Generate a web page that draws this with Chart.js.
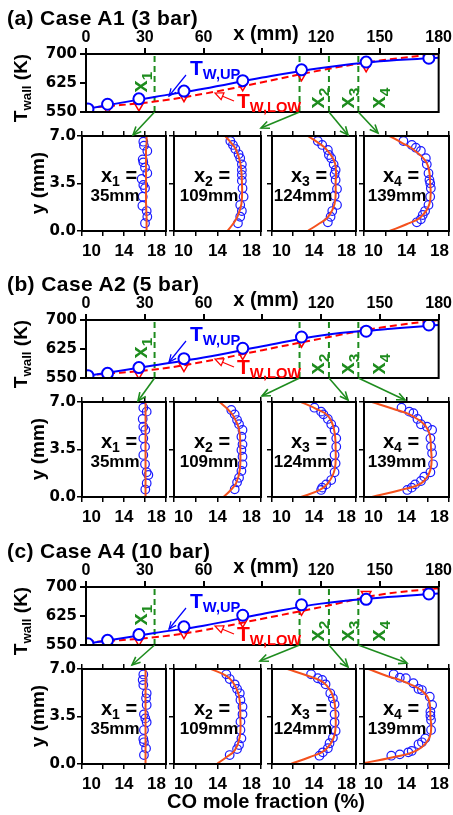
<!DOCTYPE html>
<html>
<head>
<meta charset="utf-8">
<script src="https://cdn.jsdelivr.net/npm/chart.js@4.4.0/dist/chart.umd.min.js"></script>
<style>
  body { margin: 0; width: 453px; height: 815px; background: #fff; position: relative; overflow: hidden;
         font-family: "Liberation Sans", Arial, sans-serif; font-weight: bold; color: #000; }
  canvas { position: absolute; }
  .lbl { position: absolute; white-space: nowrap; line-height: 1; z-index: 6; }
  .sb { font-size: .7em; position: relative; top: .3em; }
</style>
</head>
<body>
<svg id="arrows" width="453" height="815" style="position:absolute;left:0;top:0;z-index:5"></svg>
<script>
// ---- wall temperature (top plots) ----
const xTicks = [0, 30, 60, 90, 120, 150, 180];
const xTickLabels = ['0', '30', '60', '', '120', '150', '180'];
const tTicks = [550, 625, 700];
const xProbe = [35, 109, 124, 139];
const xMeas = [1, 11, 27, 50, 80, 110, 143, 175];
const xCurve = [0, 35, 60, 90, 120, 150, 180];

const upMeasA1 = [558, 570, 584, 604, 631, 659, 679, 689];
const lowMeasA1 = [557, 560, 567, 591, 619, 645, 668, 698];
const upSimA1 = [558, 589, 610, 639, 664, 681, 690];
const lowSimA1 = [560, 577, 597, 627, 658, 683, 700];

const upMeasA2 = [556, 562, 577, 600, 627, 656, 671, 687];
const lowMeasA2 = [553, 552, 562, 581, 612, 644, 673, 697];
const upSimA2 = [555, 583, 603, 632, 660, 675, 687];
const lowSimA2 = [557, 572, 592, 622, 652, 680, 700];

const upMeasA4 = [553, 562, 577, 597, 627, 654, 668, 682];
const lowMeasA4 = [553, 553, 562, 581, 610, 641, 681, 696];
const upSimA4 = [553, 581, 600, 630, 657, 672, 683];
const lowSimA4 = [556, 570, 588, 618, 648, 680, 697];

// ---- CO profiles (small plots) ----
const coTicks = [10, 12, 14, 16, 18];
const coLabels = [10, 14, 18];
const yTicks = [0, 3.5, 7];
const profY = [0, 0.5, 1, 2, 3.5, 5, 6, 6.5, 7];

const yA1_1 = [6.58, 6.29, 5.9, 5.28, 5.06, 4.67, 4.25, 3.83, 3.39, 3.15, 2.53, 1.86, 1.47, 1.05, 0.57];
const coA1_1 = [15.84, 15.9, 16.22, 15.78, 15.84, 16.0, 16.22, 15.68, 15.84, 16.0, 15.78, 15.75, 16.16, 16.22, 16.0];
const simA1_1 = [16.15, 16.15, 16.15, 16.1, 16.1, 16.1, 16.1, 16.15, 16.15];
const yA1_2 = [6.63, 6.34, 6.04, 5.65, 5.36, 4.91, 4.5, 4.13, 3.71, 3.15, 2.53, 1.92, 1.47, 1.05, 0.57];
const coA1_2 = [15.18, 15.42, 15.64, 15.94, 16.09, 16.24, 16.24, 16.24, 16.24, 16.3, 16.4, 16.09, 16.24, 16.09, 15.88];
const simA1_2 = [14.9, 15.4, 15.8, 16.2, 16.25, 16.1, 15.7, 15.25, 14.7];
const yA1_3 = [6.63, 6.34, 5.97, 5.6, 5.36, 4.91, 4.5, 4.18, 3.76, 3.1, 2.6, 1.92, 1.47, 1.05, 0.64];
const coA1_3 = [14.36, 14.78, 15.32, 15.42, 15.64, 15.87, 16.06, 15.96, 16.06, 16.19, 15.96, 16.19, 15.74, 15.58, 15.32];
const simA1_3 = [13.4, 14.4, 15.3, 15.96, 16.06, 16.0, 15.2, 14.4, 13.4];
const yA1_4 = [6.63, 6.34, 6.14, 5.9, 5.36, 4.91, 4.25, 3.76, 3.51, 3.15, 2.53, 1.92, 1.47, 1.18, 0.86, 0.64];
const coA1_4 = [13.71, 14.5, 14.88, 15.35, 15.82, 15.91, 16.07, 16.16, 16.23, 16.29, 16.23, 16.07, 15.75, 15.53, 15.35, 14.97];
const simA1_4 = [12.4, 14.0, 15.3, 16.16, 16.23, 15.91, 14.65, 13.56, 12.4];

const yA2_1 = [6.58, 6.29, 5.75, 5.18, 4.94, 4.32, 3.71, 3.1, 2.41, 1.82, 1.62, 1.01, 0.55];
const coA2_1 = [15.84, 16.16, 15.78, 15.84, 16.03, 15.84, 16.0, 15.84, 16.0, 16.16, 16.32, 16.16, 16.03];
const simA2_1 = [16.05, 16.05, 16.05, 16.05, 16.05, 16.05, 16.05, 16.05, 16.05];
const yA2_2 = [6.41, 6.09, 5.67, 5.36, 4.94, 4.44, 3.88, 3.46, 2.97, 2.41, 1.92, 1.42, 1.08, 0.57];
const coA2_2 = [15.27, 15.58, 15.8, 15.98, 16.3, 16.2, 16.3, 16.2, 16.3, 16.3, 16.2, 15.98, 15.8, 15.58];
const simA2_2 = [14.56, 15.2, 15.7, 16.05, 16.1, 15.98, 15.43, 14.9, 14.19];
const yA2_3 = [6.58, 6.29, 6.09, 5.75, 5.36, 4.94, 4.32, 3.71, 3.1, 2.48, 1.82, 1.25, 0.93, 0.69, 0.52];
const coA2_3 = [14.04, 14.68, 14.9, 15.32, 15.64, 15.96, 16.12, 16.12, 15.96, 16.06, 15.96, 15.64, 15.16, 14.78, 14.68];
const simA2_3 = [12.76, 14.52, 15.32, 15.96, 16.06, 15.9, 15.32, 14.2, 12.76];
const yA2_4 = [6.58, 6.29, 6.17, 5.75, 5.36, 5.18, 4.94, 4.32, 3.71, 3.22, 2.41, 1.82, 1.5, 1.18, 0.93, 0.69, 0.52];
const coA2_4 = [13.53, 14.26, 14.65, 15.03, 15.36, 15.93, 16.41, 16.25, 16.31, 16.41, 16.5, 16.25, 15.67, 15.36, 14.81, 14.49, 14.07];
const simA2_4 = [10.74, 13.37, 15.36, 16.25, 16.31, 15.99, 14.49, 12.72, 10.74];

const yA4_1 = [6.6, 6.19, 5.82, 5.21, 4.84, 4.35, 3.66, 3.36, 3.07, 2.5, 1.84, 1.6, 1.15, 0.66];
const coA4_1 = [15.84, 15.78, 15.84, 16.16, 16.1, 16.16, 15.9, 16.03, 16.16, 15.9, 15.84, 15.9, 16.1, 15.9];
const simA4_1 = [16.05, 16.05, 16.05, 16.05, 16.05, 16.05, 16.05, 16.05, 16.05];
const yA4_2 = [6.61, 6.26, 5.87, 5.53, 5.21, 4.72, 4.22, 3.66, 3.12, 2.5, 1.89, 1.4, 1.1, 0.66];
const coA4_2 = [14.81, 15.12, 15.58, 15.8, 16.05, 16.11, 16.3, 16.3, 16.11, 16.11, 16.2, 15.98, 15.8, 15.12];
const simA4_2 = [13.94, 14.81, 15.58, 16.05, 16.1, 15.98, 15.43, 14.81, 13.41];
const yA4_3 = [6.61, 6.32, 6.19, 5.87, 5.21, 4.84, 4.4, 3.66, 3.07, 2.43, 1.94, 1.53, 1.16, 0.86, 0.61];
const coA4_3 = [13.72, 14.36, 14.78, 15.1, 15.55, 15.8, 15.96, 15.96, 15.96, 16.06, 15.8, 15.48, 15.32, 14.84, 14.52];
const simA4_3 = [11.79, 13.56, 15.0, 15.9, 16.06, 15.8, 14.9, 13.4, 11.47];
const yA4_4 = [6.61, 6.36, 6.32, 5.95, 5.53, 5.45, 4.96, 4.35, 3.85, 3.56, 3.24, 2.51, 1.89, 1.6, 1.45, 0.96, 0.86, 0.71, 0.61];
const coA4_4 = [12.79, 13.37, 13.94, 14.65, 15.13, 15.45, 16.19, 16.41, 16.25, 16.25, 16.31, 16.31, 15.77, 15.45, 15.13, 14.49, 14.17, 13.37, 12.57];
const simA4_4 = [9.5, 12.73, 14.97, 16.19, 16.25, 15.93, 14.0, 12.1, 10.42];

const BLUE = '#0000ff', RED = '#ff0000', GREEN = '#1e8c1e', ORANGE = '#f4511e', CIRC = '#1a1aff';
const panelL = [82, 174, 272, 364];
const panelR = [166, 261, 356, 449];

// box around every plot area
const frame = {
    id: 'frame',
    afterDraw(c) {
        const a = c.chartArea, ctx = c.ctx;
        ctx.save();
        ctx.strokeStyle = '#000';
        ctx.lineWidth = 2;
        ctx.strokeRect(a.left, a.top, a.right - a.left, a.bottom - a.top);
        ctx.restore();
    }
};

function makeCanvas(x, y, w, h) {
    const cv = document.createElement('canvas');
    cv.width = w; cv.height = h;
    cv.style.left = x + 'px'; cv.style.top = y + 'px';
    document.body.appendChild(cv);
    return cv;
}

function addText(html, x, y, css, transform) {
    const d = document.createElement('div');
    d.className = 'lbl';
    d.innerHTML = html;
    Object.assign(d.style, css || {});
    d.style.left = x + 'px';
    d.style.top = y + 'px';
    d.style.transform = transform || 'translate(-50%,-50%)';
    document.body.appendChild(d);
}

const svg = document.getElementById('arrows');
function arrow(x1, y1, x2, y2, color, w, len, closed) {
    const a = Math.atan2(y2 - y1, x2 - x1), s = 0.42;
    const p1 = [x2 - len * Math.cos(a - s), y2 - len * Math.sin(a - s)];
    const p2 = [x2 - len * Math.cos(a + s), y2 - len * Math.sin(a + s)];
    const ns = 'http://www.w3.org/2000/svg';
    const ln = document.createElementNS(ns, 'line');
    ln.setAttribute('x1', x1); ln.setAttribute('y1', y1);
    ln.setAttribute('x2', closed ? (p1[0] + p2[0]) / 2 : x2);
    ln.setAttribute('y2', closed ? (p1[1] + p2[1]) / 2 : y2);
    ln.setAttribute('stroke', color); ln.setAttribute('stroke-width', w);
    svg.appendChild(ln);
    const hd = document.createElementNS(ns, closed ? 'polygon' : 'polyline');
    hd.setAttribute('points', `${p1[0]},${p1[1]} ${x2},${y2} ${p2[0]},${p2[1]}`);
    hd.setAttribute('fill', closed ? '#fff' : 'none');
    hd.setAttribute('stroke', color); hd.setAttribute('stroke-width', w);
    svg.appendChild(hd);
}

const tickFontY = { family: 'DejaVu Sans', size: 15, weight: 'bold' };

function wallChart(off, up, low, upSim, lowSim) {
    const cv = makeCanvas(0, off, 453, 124);
    const probeLines = xProbe.map(p => ({
        data: [{ x: p, y: tTicks[0] }, { x: p, y: tTicks[tTicks.length - 1] }],
        showLine: true, borderColor: GREEN, borderWidth: 2, borderDash: [6, 4], pointRadius: 0, order: 5
    }));
    return new Chart(cv, {
        type: 'scatter',
        data: {
            datasets: [
                { data: xMeas.map((x, i) => ({ x, y: up[i] })), pointStyle: 'circle', pointRadius: 5.5,
                  borderColor: BLUE, backgroundColor: '#fff', borderWidth: 2, order: 0 },
                { data: xMeas.map((x, i) => ({ x, y: low[i] })), pointStyle: 'triangle', rotation: 180, pointRadius: 5.5,
                  borderColor: RED, backgroundColor: 'rgba(0,0,0,0)', borderWidth: 1.5, order: 1 },
                { data: xCurve.map((x, i) => ({ x, y: upSim[i] })), showLine: true, borderColor: BLUE,
                  borderWidth: 2, pointRadius: 0, tension: 0.4, order: 2 },
                { data: xCurve.map((x, i) => ({ x, y: lowSim[i] })), showLine: true, borderColor: RED,
                  borderWidth: 2, borderDash: [7, 4], pointRadius: 0, tension: 0.4, order: 3 },
                ...probeLines
            ]
        },
        options: {
            responsive: false, animation: false, events: [],
            layout: { padding: { right: 4, bottom: 9 } },
            plugins: { legend: { display: false }, tooltip: { enabled: false } },
            scales: {
                x: {
                    type: 'linear', position: 'top', min: 0, max: 180,
                    afterFit: s => { s.height = 54; },
                    afterBuildTicks: s => { s.ticks = xTicks.map(v => ({ value: v })); },
                    border: { display: false },
                    grid: { drawOnChartArea: false, color: '#000', lineWidth: 2, tickLength: 6 },
                    ticks: { autoSkip: false, maxRotation: 0, padding: 1, color: '#000',
                             font: { family: 'Liberation Sans', size: 16, weight: 'bold' },
                             callback: (v, i) => xTickLabels[i] }
                },
                y: {
                    type: 'linear', min: 550, max: 700,
                    afterFit: s => { s.width = 86; },
                    afterBuildTicks: s => { s.ticks = tTicks.map(v => ({ value: v })); },
                    border: { display: false },
                    grid: { drawOnChartArea: false, color: '#000', lineWidth: 2, tickLength: 6 },
                    ticks: { autoSkip: false, padding: 3, color: '#000', font: tickFontY }
                }
            }
        },
        plugins: [frame]
    });
}

function profileChart(off, k, yMeas, coMeas, coSim) {
    const L = panelL[k], R = panelR[k], T = 136 + off, B = 231 + off;
    const cv = makeCanvas(L - 50, T - 12, R - L + 56, B - T + 42);
    const tickGrid = { drawOnChartArea: false, color: '#000', lineWidth: 1.5, tickLength: 5 };
    return new Chart(cv, {
        type: 'scatter',
        data: {
            datasets: [
                { data: coMeas.map((c, i) => ({ x: c, y: yMeas[i] })), pointStyle: 'circle', pointRadius: 4.3,
                  borderColor: CIRC, backgroundColor: 'rgba(0,0,0,0)', borderWidth: 1.2, order: 1 },
                { data: coSim.map((c, i) => ({ x: c, y: profY[i] })), showLine: true, borderColor: ORANGE,
                  borderWidth: 2, pointRadius: 0, tension: 0.4, clip: 0, order: 0 }
            ]
        },
        options: {
            responsive: false, animation: false, events: [],
            layout: { padding: { right: 6 } },
            plugins: { legend: { display: false }, tooltip: { enabled: false } },
            scales: {
                x: {
                    type: 'linear', position: 'bottom', min: 10, max: 18,
                    afterFit: s => { s.height = 30; },
                    afterBuildTicks: s => { s.ticks = coTicks.map(v => ({ value: v })); },
                    border: { display: false }, grid: tickGrid,
                    ticks: { autoSkip: false, maxRotation: 0, padding: 5, align: 'inner', color: '#000',
                             font: { family: 'Liberation Sans', size: 17, weight: 'bold' },
                             callback: v => coLabels.includes(v) ? String(v) : '' }
                },
                xTop: {
                    type: 'linear', position: 'top', min: 10, max: 18,
                    afterFit: s => { s.height = 12; },
                    afterBuildTicks: s => { s.ticks = coTicks.map(v => ({ value: v })); },
                    border: { display: false }, grid: tickGrid,
                    ticks: { display: false }
                },
                y: {
                    type: 'linear', min: 0, max: 7,
                    afterFit: s => { s.width = 50; },
                    afterBuildTicks: s => { s.ticks = yTicks.map(v => ({ value: v })); },
                    border: { display: false }, grid: tickGrid,
                    ticks: { autoSkip: false, padding: 1, color: '#000', font: tickFontY,
                             callback: v => k === 0 ? v.toFixed(1) : '' }
                }
            }
        },
        plugins: [frame]
    });
}

const sections = [
    { off: 0, title: '(a) Case A1 (3 bar)', up: upMeasA1, low: lowMeasA1, upSim: upSimA1, lowSim: lowSimA1,
      prof: [[yA1_1, coA1_1, simA1_1], [yA1_2, coA1_2, simA1_2], [yA1_3, coA1_3, simA1_3], [yA1_4, coA1_4, simA1_4]],
      targets: [[133, 135], [261, 128], [348, 135], [378, 133]] },
    { off: 266, title: '(b) Case A2 (5 bar)', up: upMeasA2, low: lowMeasA2, upSim: upSimA2, lowSim: lowSimA2,
      prof: [[yA2_1, coA2_1, simA2_1], [yA2_2, coA2_2, simA2_2], [yA2_3, coA2_3, simA2_3], [yA2_4, coA2_4, simA2_4]],
      targets: [[138, 135], [262, 130], [348, 134], [405, 134]] },
    { off: 533, title: '(c) Case A4 (10 bar)', up: upMeasA4, low: lowMeasA4, upSim: upSimA4, lowSim: lowSimA4,
      prof: [[yA4_1, coA4_1, simA4_1], [yA4_2, coA4_2, simA4_2], [yA4_3, coA4_3, simA4_3], [yA4_4, coA4_4, simA4_4]],
      targets: [[132, 132], [260, 128], [348, 134], [407, 130]] }
];

const probeLblX = [[119, 115], [212, 209], [309, 303], [401, 397]];
const probeTagPos = [[140, 82], [317, 98], [347, 98], [378, 98]];

sections.forEach(sec => {
    const o = sec.off;
    const top = wallChart(o, sec.up, sec.low, sec.upSim, sec.lowSim);
    sec.prof.forEach((p, k) => profileChart(o, k, p[0], p[1], p[2]));

    addText(sec.title, 7, 17 + o, { fontSize: '21px', letterSpacing: '0.4px' }, 'translate(0,-50%)');
    addText('x (mm)', 266, 33 + o, { fontSize: '20px' });
    addText('T<span class="sb">wall</span> (K)', 20, 88 + o, { fontSize: '19px' }, 'translate(-50%,-50%) rotate(-90deg)');
    addText('y (mm)', 37, 183 + o, { fontSize: '19px' }, 'translate(-50%,-50%) rotate(-90deg)');
    addText('T<span class="sb">W,UP</span>', 190, 67 + o, { fontSize: '21px', color: BLUE }, 'translate(0,-50%)');
    addText('T<span class="sb">W,LOW</span>', 237, 100 + o, { fontSize: '21px', color: RED }, 'translate(0,-50%)');
    arrow(186, 75 + o, 169, 96 + o, BLUE, 1.2, 8, false);
    arrow(234, 101 + o, 215, 93 + o, RED, 1.2, 9, true);

    const bottom = top.chartArea.bottom + o;
    xProbe.forEach((p, k) => {
        addText('x<span class="sb">' + (k + 1) + '</span>', probeTagPos[k][0], probeTagPos[k][1] + o,
            { fontSize: '22px', color: GREEN }, 'translate(-50%,-50%) rotate(-90deg)');
        const px = top.scales.x.getPixelForValue(p);
        const t = sec.targets[k];
        arrow(px, bottom, t[0], t[1] + o, GREEN, 1.6, 9, false);
        addText('x<span class="sb">' + (k + 1) + '</span> =', probeLblX[k][0], 175 + o, { fontSize: '20px' });
        addText(p + 'mm', probeLblX[k][1], 195 + o, { fontSize: '17px' });
    });
});

addText('CO mole fraction (%)', 266, 801, { fontSize: '20px' });
</script>
</body>
</html>
